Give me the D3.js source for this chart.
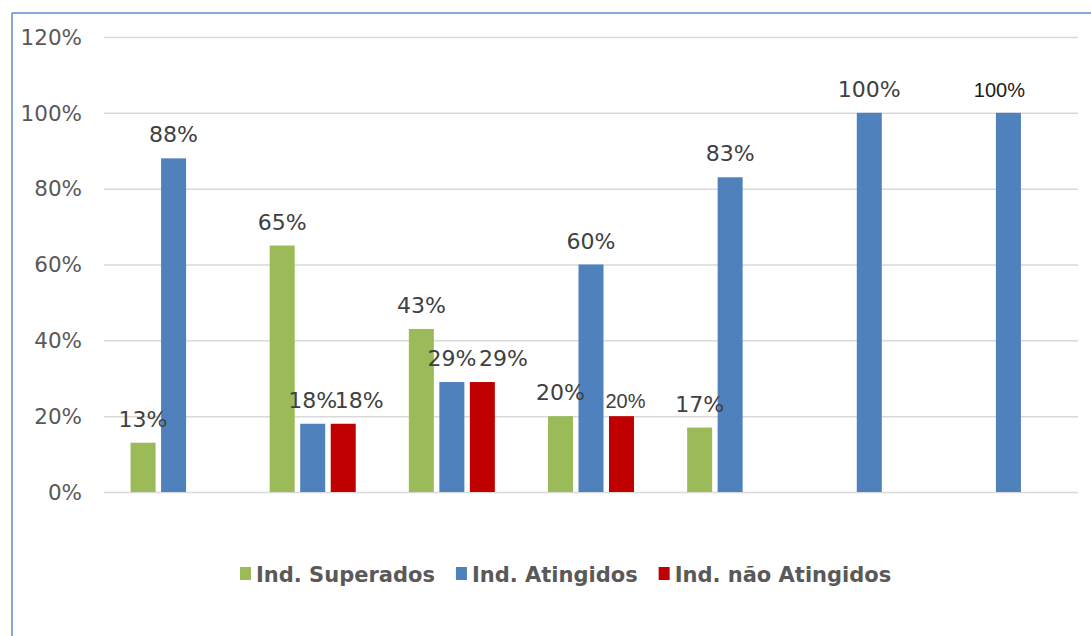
<!DOCTYPE html>
<html>
<head>
<meta charset="utf-8">
<script src="https://cdn.jsdelivr.net/npm/d3@7"></script>
<style>
  html, body { margin: 0; padding: 0; background: #ffffff; }
  svg { display: block; }
</style>
</head>
<body>
<svg id="chart" width="1091" height="636"></svg>
<script>
// Indicator groups (no axis labels are shown for them)
const categories = ["1", "2", "3", "4", "5", "6", "7"];
const series = ["Ind. Superados", "Ind. Atingidos", "Ind. não Atingidos"];

// Percentages per group; null = no bar
const superados    = [13, 65, 43, 20, 17, null, null];
const atingidos    = [88, 18, 29, 60, 83, 100, 100];
const naoAtingidos = [null, 18, 29, 20, null, null, null];

const yTicks = [0, 20, 40, 60, 80, 100, 120];

const seriesValues = [superados, atingidos, naoAtingidos];
const colors = ["#9BBB59", "#4F81BD", "#C00000"];

const svg = d3.select("#chart");
const W = 1091, H = 636;
const plot = { left: 104, right: 1078, top: 37, bottom: 492 };

// Frame lines along the top and left edge
svg.append("line")
  .attr("x1", 12).attr("x2", W).attr("y1", 13).attr("y2", 13)
  .attr("stroke", "#5B8CC8").attr("stroke-width", 1.5);
svg.append("line")
  .attr("x1", 12).attr("x2", 12).attr("y1", 13).attr("y2", H)
  .attr("stroke", "#5B8CC8").attr("stroke-width", 1.5);

const y = d3.scaleLinear().domain([0, 120]).range([plot.bottom, plot.top]);
const x0 = d3.scaleBand().domain(categories).range([plot.left, plot.right]).padding(0);
const x1 = d3.scaleBand().domain(series).range([-45.75, 45.75])
  .paddingInner(0.18).paddingOuter(0.09);

// Gridlines and y tick labels
const yAxis = d3.axisLeft(y)
  .tickValues(yTicks)
  .tickSize(-(plot.right - plot.left))
  .tickPadding(22)
  .tickFormat(d => d + "%");

const gAxis = svg.append("g")
  .attr("transform", `translate(${plot.left},0)`)
  .call(yAxis);
gAxis.select(".domain").remove();
gAxis.selectAll(".tick line")
  .attr("stroke", "#D9D9D9").attr("stroke-width", 1.5);
gAxis.selectAll(".tick text")
  .attr("fill", "#595959")
  .attr("font-family", "'DejaVu Sans', Verdana, sans-serif")
  .attr("font-size", 21.5)
  .attr("dy", "0.34em");

// Bars
const bars = [];
seriesValues.forEach((vals, si) => {
  vals.forEach((v, ci) => {
    if (v === null) return;
    bars.push({ cat: categories[ci], ser: series[si], si, ci, value: v });
  });
});

const center = d => x0(d.cat) + x0.bandwidth() / 2;

svg.append("g").selectAll("rect")
  .data(bars)
  .join("rect")
  .attr("x", d => center(d) + x1(d.ser))
  .attr("y", d => y(d.value))
  .attr("width", x1.bandwidth())
  .attr("height", d => y(0) - y(d.value))
  .attr("fill", d => colors[d.si]);

// Value labels; a few are nudged sideways to avoid collisions
const labelShift = { "1-2": 16, "2-2": 21, "3-2": 4, "6-1": -9 };
const altFont = { "3-2": "#404040", "6-1": "#1a1a1a" };

svg.append("g").selectAll("text")
  .data(bars)
  .join("text")
  .attr("x", d => center(d) + x1(d.ser) + x1.bandwidth() / 2 + (labelShift[d.ci + "-" + d.si] || 0))
  .attr("y", d => {
    const k = d.ci + "-" + d.si;
    if (k === "3-2") return y(d.value) - 8;
    return y(d.value) - 16;
  })
  .attr("text-anchor", "middle")
  .attr("font-family", d => altFont[d.ci + "-" + d.si]
    ? "'Liberation Sans', Arial, sans-serif"
    : "'DejaVu Sans', Verdana, sans-serif")
  .attr("font-size", d => altFont[d.ci + "-" + d.si] ? 20 : 22)
  .attr("fill", d => altFont[d.ci + "-" + d.si] || "#404040")
  .text(d => d.value + "%");

// Legend
const legend = svg.append("g");
let lx = 240;
series.forEach((s, i) => {
  legend.append("rect")
    .attr("x", lx).attr("y", 567)
    .attr("width", 11).attr("height", 13)
    .attr("fill", colors[i]);
  const t = legend.append("text")
    .attr("x", lx + 16).attr("y", 582)
    .attr("font-family", "'DejaVu Sans', Verdana, sans-serif")
    .attr("font-weight", "bold")
    .attr("font-size", 21)
    .attr("fill", "#595959")
    .text(s);
  lx += 16 + t.node().getComputedTextLength() + 21;
});
</script>
</body>
</html>
